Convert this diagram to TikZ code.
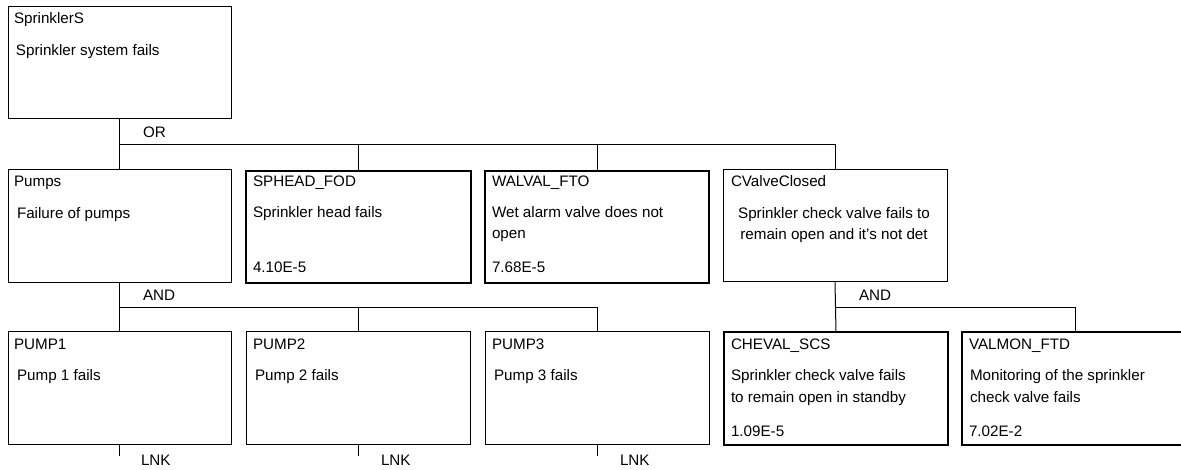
\documentclass[tikz,border=0pt]{standalone}
\usepackage{fontspec}
\setmainfont{Liberation Sans}
\usetikzlibrary{calc}
\tikzset{
  ebox/.style={draw=black, line width=1pt, inner sep=0pt, outer sep=0pt, anchor=north west},
  bbox/.style={ebox, line width=2.6pt},
  conn/.style={draw=black, line width=1pt},
  txt/.style={inner sep=0pt, outer sep=0pt, anchor=base west, font=\fontsize{15.2}{21}\selectfont, align=left},
  ctxt/.style={inner sep=0pt, outer sep=0pt, anchor=base, font=\fontsize{15.2}{21}\selectfont, align=center}
}
\begin{document}
\begin{tikzpicture}[x=1pt,y=-1pt]
\useasboundingbox (0,0) rectangle (1181,470);
% boxes
\node[ebox, minimum width=223pt, minimum height=112pt] (top) at (8,7) {};
\node[ebox, minimum width=223pt, minimum height=113pt] (pumps) at (8,170) {};
\node[bbox, minimum width=225pt, minimum height=112pt] (sphead) at (246,171) {};
\node[bbox, minimum width=224pt, minimum height=112pt] (walval) at (485,171) {};
\node[ebox, minimum width=224pt, minimum height=112pt] (cvalve) at (723,170) {};
\node[ebox, minimum width=223pt, minimum height=112pt] (pump1) at (8,332) {};
\node[ebox, minimum width=224pt, minimum height=112pt] (pump2) at (246,332) {};
\node[ebox, minimum width=224pt, minimum height=112pt] (pump3) at (485,332) {};
\node[bbox, minimum width=224pt, minimum height=113pt] (cheval) at (724,332) {};
\node[bbox, minimum width=226pt, minimum height=113pt] (valmon) at (962,332) {};
% texts (multi-line nodes: base = baseline of last line)
\node[txt] (topN) at (14,24) {SprinklerS};
\node[txt] (topD) at (16,56) {Sprinkler system fails};
\node[txt] (pumpsN) at (14,187) {Pumps};
\node[txt] (pumpsD) at (17,219) {Failure of pumps};
\node[txt] (spheadN) at (253,187) {SPHEAD\_FOD};
\node[txt] (spheadD) at (253,218) {Sprinkler head fails};
\node[txt] (spheadP) at (253,273) {4.10E-5};
\node[txt] (walvalN) at (492,187) {WALVAL\_FTO};
\node[txt] (walvalD) at (492,239) {Wet alarm valve does not\\open};
\node[txt] (walvalP) at (492,273) {7.68E-5};
\node[txt] (cvalveN) at (731,187) {CValveClosed};
\node[ctxt] (cvalveD) at (834,240) {Sprinkler check valve fails to\\remain open and it's not det};
\node[txt] (pump1N) at (14,349) {PUMP1};
\node[txt] (pump1D) at (17,381) {Pump 1 fails};
\node[txt] (pump2N) at (253,349) {PUMP2};
\node[txt] (pump2D) at (255,381) {Pump 2 fails};
\node[txt] (pump3N) at (492,349) {PUMP3};
\node[txt] (pump3D) at (494,381) {Pump 3 fails};
\node[txt] (chevalN) at (731,349) {CHEVAL\_SCS};
\node[txt] (chevalD) at (731,402) {Sprinkler check valve fails\\to remain open in standby};
\node[txt] (chevalP) at (731,436) {1.09E-5};
\node[txt] (valmonN) at (969,349) {VALMON\_FTD};
\node[txt] (valmonD) at (970,402) {Monitoring of the sprinkler\\check valve fails};
\node[txt] (valmonP) at (969,436) {7.02E-2};
% gate labels
\node[txt] (orL) at (143,138) {OR};
\node[txt] (and1L) at (143,301) {AND};
\node[txt] (and2L) at (859,301) {AND};
\node[txt] (lnk1) at (141,465) {LNK};
\node[txt] (lnk2) at (381,465) {LNK};
\node[txt] (lnk3) at (620,465) {LNK};
% connectors
\coordinate (orbar) at (0,145);
\coordinate (andbar) at (0,308);
\draw[conn] (top.south) -- (pumps.north);
\draw[conn] (pumps.north |- orbar) -| (cvalve.north);
\draw[conn] (sphead.north |- orbar) -- (sphead.north);
\draw[conn] (walval.north |- orbar) -- (walval.north);
\draw[conn] (pumps.south) -- (pump1.north);
\draw[conn] (pump1.north |- andbar) -| (pump3.north);
\draw[conn] (pump2.north |- andbar) -- (pump2.north);
\draw[conn] (cvalve.south) -- (cheval.north);
\draw[conn] (cheval.north |- andbar) -| (valmon.north);
\draw[conn] (pump1.south) -- ++(0,12) coordinate (lk1);
\draw[conn] (pump2.south) -- ++(0,12) coordinate (lk2);
\draw[conn] (pump3.south) -- ++(0,12) coordinate (lk3);
\end{tikzpicture}
\end{document}
